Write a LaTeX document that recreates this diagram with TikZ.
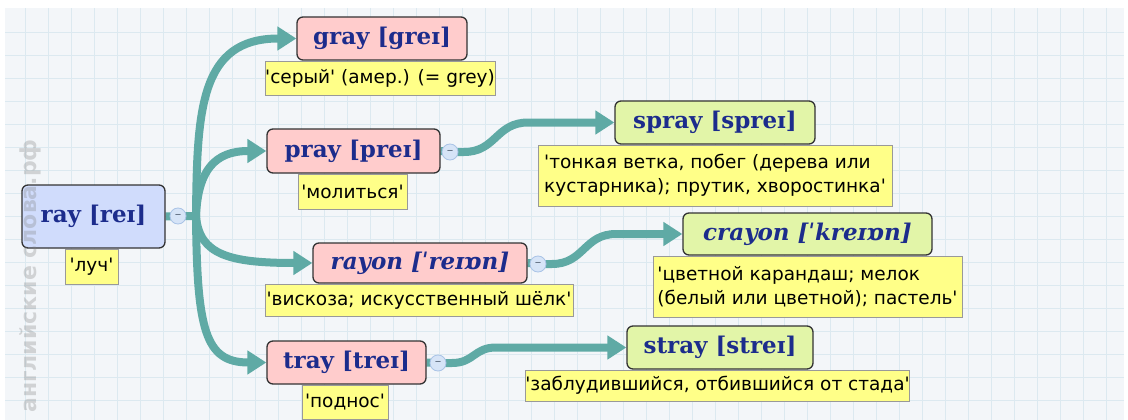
\documentclass[tikz,border=0pt]{standalone}
\usepackage{fontspec}
\setmainfont{DejaVu Sans}
\newfontfamily\hwfont{DejaVu Serif}
\usetikzlibrary{arrows.meta}
\pgfdeclarelayer{gridlayer}
\pgfdeclarelayer{linklayer}
\pgfsetlayers{gridlayer,linklayer,main}
\newcommand\myq{\textquotesingle}
\definecolor{teallink}{HTML}{5FAAA5}
\definecolor{hwblue}{HTML}{1C2C8C}
\definecolor{rootfill}{HTML}{D0DCFC}
\definecolor{pinkfill}{HTML}{FFCCCC}
\definecolor{greenfill}{HTML}{E2F5A8}
\definecolor{yelfill}{HTML}{FFFF88}
\definecolor{gridbg}{HTML}{F3F6F9}
\definecolor{gridln}{HTML}{DCE9F0}
\definecolor{knobfill}{HTML}{D6E4F7}
\definecolor{knobline}{HTML}{A9C3E6}
\tikzset{
  wordbox/.style={draw=black!80, line width=1.3pt, rounded corners=6pt, inner sep=0pt,
    font=\hwfont\bfseries\fontsize{23}{26}\selectfont, text=hwblue},
  rootbox/.style={wordbox, fill=rootfill},
  pinkbox/.style={wordbox, fill=pinkfill},
  greenbox/.style={wordbox, fill=greenfill},
  transbox/.style={draw=black!40, line width=0.8pt, fill=yelfill, inner sep=0pt,
    font=\fontsize{18.5}{24}\selectfont, align=left, anchor=north, text=black},
  link/.style={draw=teallink, line width=8pt, -{Triangle[length=19pt,width=23pt]}},
  stem/.style={draw=teallink, line width=8pt},
  knob/.style={circle, draw=knobline, line width=0.8pt, fill=knobfill, minimum size=16pt,
    inner sep=0pt, font=\fontsize{13}{13}\selectfont, text=knobline!55!black}
}
\begin{document}
\begin{tikzpicture}[x=1pt,y=-1pt]
\useasboundingbox (0,0) rectangle (1128,420);
% background grid
\begin{pgfonlayer}{gridlayer}
  \fill[gridbg] (5,8) rectangle (1124,420);
  \foreach \k in {1,...,48} \draw[gridln, line width=1pt] ({2.7+23*\k},8) -- ({2.7+23*\k},420);
  \foreach \k in {1,...,17} \draw[gridln, line width=1pt] (5,{9.7+23*\k}) -- (1124,{9.7+23*\k});
\end{pgfonlayer}

% word boxes
\node[rootbox, minimum width=143pt, minimum height=63pt] (ray) at (93.5,216.5) {ray [reɪ]};
\node[pinkbox, minimum width=170pt, minimum height=43pt] (gray) at (382,38.5) {gray [greɪ]};
\node[pinkbox, minimum width=173pt, minimum height=44pt] (pray) at (353.5,151) {pray [preɪ]};
\node[pinkbox, minimum width=214pt, minimum height=40pt, font=\hwfont\bfseries\itshape\fontsize{23}{26}\selectfont] (rayon) at (420,263) {rayon [ˈreɪɒn]};
\node[pinkbox, minimum width=159pt, minimum height=43pt] (tray) at (346.5,362.5) {tray [treɪ]};
\node[greenbox, minimum width=200pt, minimum height=43pt] (spray) at (715,122.5) {spray [spreɪ]};
\node[greenbox, minimum width=249pt, minimum height=42pt, font=\hwfont\bfseries\itshape\fontsize{23}{26}\selectfont] (crayon) at (807.5,234) {crayon [ˈkreɪɒn]};
\node[greenbox, minimum width=186pt, minimum height=43pt] (stray) at (720,347.5) {stray [streɪ]};

% translations
\node[transbox, minimum width=53pt, minimum height=35pt, xshift=-2pt] (tray0) at (ray.south) {\myq луч\myq};
\node[transbox, minimum width=230pt, minimum height=34pt, xshift=-2pt] (tgray) at (gray.south) {\myq серый\myq\ (амер.) (= grey)};
\node[transbox, minimum width=109pt, minimum height=35pt, xshift=-1pt] (tpray) at (pray.south) {\myq молиться\myq};
\node[transbox, minimum width=354pt, minimum height=61pt] (tspray) at (spray.south) {\myq тонкая ветка, побег (дерева или\\кустарника); прутик, хворостинка\myq};
\node[transbox, minimum width=308pt, minimum height=32pt, xshift=-1pt] (trayon) at (rayon.south) {\myq вискоза; искусственный шёлк\myq};
\node[transbox, minimum width=309pt, minimum height=61pt] (tcrayon) at (crayon.south) {\myq цветной карандаш; мелок\\(белый или цветной); пастель\myq};
\node[transbox, minimum width=86pt, minimum height=34pt, xshift=-1.5pt] (ttray) at (tray.south) {\myq поднос\myq};
\node[transbox, minimum width=381pt, minimum height=31pt, xshift=-2.5pt] (tstray) at (stray.south) {\myq заблудившийся, отбившийся от стада\myq};

% collapse knobs
\node[knob] (kray) at (178,216) {–};
\node[knob] (kpray) at (450,152) {–};
\node[knob] (krayon) at (538,264) {–};
\node[knob] (ktray) at (438,363) {–};
\coordinate (jn) at (196,216);

% connectors
\begin{pgfonlayer}{linklayer}
  \draw[stem] (ray.east) -- (jn);
  \draw[link] (jn) .. controls (197,110) and (200,38.5) .. (gray.west);
  \draw[link] (jn) .. controls (198,170) and (215,151) .. (pray.west);
  \draw[link] (jn) .. controls (199,255) and (230,263) .. (rayon.west);
  \draw[link] (jn) .. controls (197,330) and (205,362.5) .. (tray.west);
  \draw[link] (pray.east) -- (kpray.center) -- ++(14,0) .. controls +(32,0) and +(-32,0) .. ++(64,-29.5) -- (spray.west);
  \draw[link] (rayon.east) -- (krayon.center) -- ++(14,0) .. controls +(32,0) and +(-32,0) .. ++(64,-30) -- (crayon.west);
  \draw[link] (tray.east) -- (ktray.center) -- ++(14,0) .. controls +(22,0) and +(-22,0) .. ++(44,-15.5) -- (stray.west);
\end{pgfonlayer}

% watermark
\node[rotate=90, font=\bfseries\fontsize{22}{22}\selectfont, text=gray, opacity=0.3] (wm) at (30,276) {английские слова.рф};
\end{tikzpicture}
\end{document}
